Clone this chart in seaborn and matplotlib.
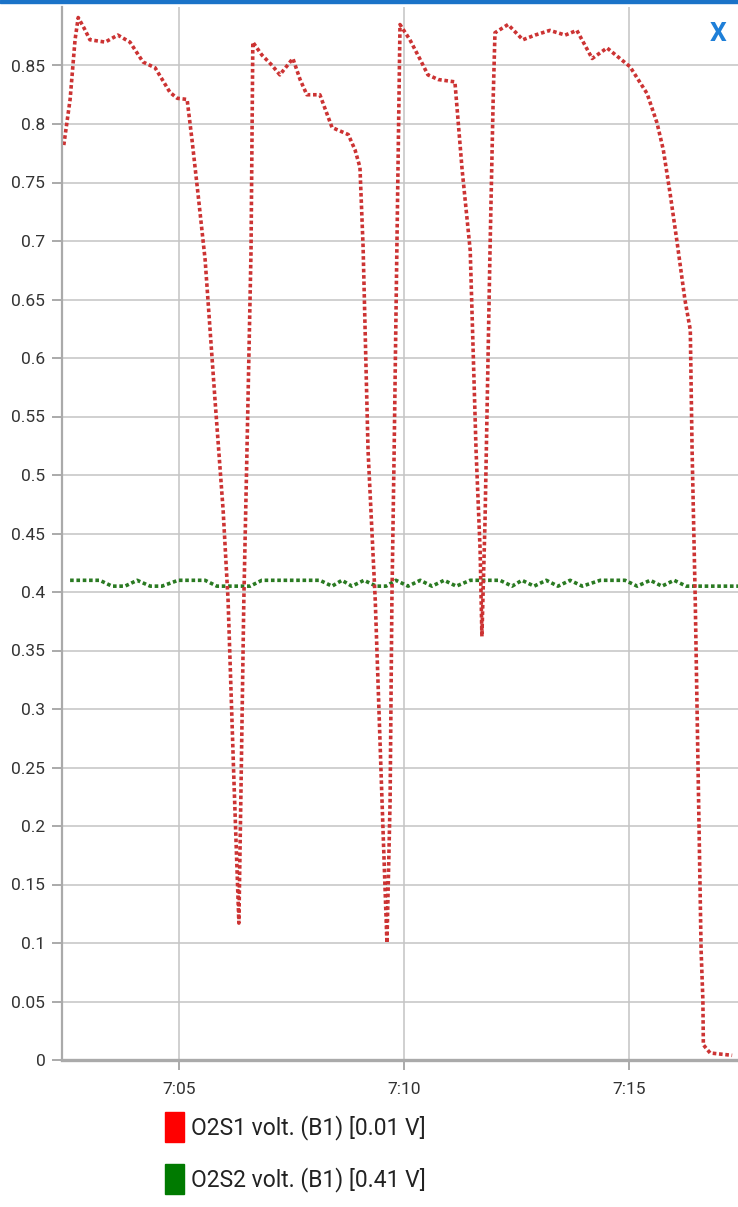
import numpy as np
import pandas as pd
import matplotlib
matplotlib.use("Agg")
import matplotlib.pyplot as plt
import matplotlib.dates as mdates
from matplotlib.patches import Patch, Rectangle
from matplotlib.ticker import FuncFormatter
import seaborn as sns

# --- data: minutes after 7:00 and sensor voltage (V) ---
o2s1_min = [2.44, 2.58, 2.69, 2.76, 2.89, 3.02, 3.36, 3.64, 3.91, 4.20, 4.47, 4.80,
            4.96, 5.18, 5.29, 5.42, 5.58, 5.80, 5.98, 6.09, 6.22, 6.33, 6.38, 6.44,
            6.51, 6.60, 6.64, 6.84, 7.07, 7.24, 7.53, 7.69, 7.84, 8.13, 8.40, 8.76,
            8.91, 9.02, 9.09, 9.20, 9.36, 9.51, 9.62, 9.69, 9.73, 9.78, 9.84, 9.91,
            10.13, 10.36, 10.53, 10.76, 11.13, 11.29, 11.47, 11.60, 11.69, 11.73,
            11.80, 11.91, 11.98, 12.02, 12.31, 12.64, 12.91, 13.24, 13.58, 13.84,
            14.18, 14.51, 15.02, 15.40, 15.62, 15.76, 15.91, 16.07, 16.24, 16.36,
            16.40, 16.47, 16.60, 16.64, 16.65, 16.80, 17.29]
o2s1_volt = [0.782, 0.821, 0.872, 0.891, 0.882, 0.872, 0.870, 0.876, 0.870, 0.853, 0.848, 0.827,
             0.822, 0.821, 0.786, 0.741, 0.684, 0.564, 0.470, 0.393, 0.239, 0.117, 0.239, 0.393,
             0.521, 0.692, 0.870, 0.859, 0.850, 0.842, 0.856, 0.838, 0.825, 0.825, 0.797, 0.791,
             0.778, 0.763, 0.695, 0.521, 0.393, 0.222, 0.100, 0.222, 0.393, 0.521, 0.692, 0.885,
             0.872, 0.855, 0.842, 0.838, 0.836, 0.761, 0.692, 0.521, 0.436, 0.362,
             0.462, 0.692, 0.821, 0.878, 0.885, 0.872, 0.876, 0.880, 0.876, 0.880,
             0.856, 0.865, 0.849, 0.826, 0.801, 0.778, 0.741, 0.698, 0.650, 0.624,
             0.521, 0.393, 0.094, 0.051, 0.013, 0.006, 0.004]

o2s2_min = [2.58, 3.24, 3.51, 3.80, 4.07, 4.36, 4.62, 4.98, 5.58, 5.84, 6.58, 6.84,
            8.13, 8.40, 8.62, 8.84, 9.11, 9.38, 9.60, 9.82, 10.09, 10.36, 10.62, 10.89,
            11.16, 11.47, 12.13, 12.40, 12.62, 12.89, 13.16, 13.42, 13.69, 13.96, 14.36,
            14.91, 15.18, 15.47, 15.73, 16.00, 16.27, 16.49, 17.42]
o2s2_volt = [0.410, 0.410, 0.405, 0.405, 0.410, 0.405, 0.405, 0.410, 0.410, 0.405, 0.405, 0.410,
             0.410, 0.405, 0.410, 0.405, 0.410, 0.405, 0.405, 0.410, 0.405, 0.410, 0.405, 0.410,
             0.405, 0.410, 0.410, 0.405, 0.410, 0.405, 0.410, 0.405, 0.410, 0.405, 0.410,
             0.410, 0.405, 0.410, 0.405, 0.410, 0.405, 0.405, 0.405]

legend_labels = ["O2S1 volt. (B1) [0.01 V]", "O2S2 volt. (B1) [0.41 V]"]

start = pd.Timestamp("2024-01-01 07:00")
df1 = pd.DataFrame({"time": start + pd.to_timedelta(o2s1_min, unit="min"), "volt": o2s1_volt})
df2 = pd.DataFrame({"time": start + pd.to_timedelta(o2s2_min, unit="min"), "volt": o2s2_volt})

sns.set_theme(style="whitegrid")
plt.rcParams["font.family"] = ["Roboto", "DejaVu Sans"]

fig = plt.figure(figsize=(7.38, 12.07), dpi=100)
ax = fig.add_axes([62 / 738, 147 / 1207, 676 / 738, 1053 / 1207])

sns.lineplot(data=df2, x="time", y="volt", ax=ax, color="#2a7a22", lw=2.6,
             linestyle=(0, (1, 0.75)), estimator=None, sort=False)
sns.lineplot(data=df1, x="time", y="volt", ax=ax, color="#cc3333", lw=2.6,
             linestyle=(0, (1, 0.75)), estimator=None, sort=False)

ax.set_xlim(start + pd.Timedelta(minutes=2.4), start + pd.Timedelta(minutes=17.42))
ax.set_ylim(0, 0.9)
ax.set_yticks(np.arange(0, 0.851, 0.05))
ax.yaxis.set_major_formatter(FuncFormatter(lambda v, p: "%g" % round(v, 2)))
ax.xaxis.set_major_locator(mdates.MinuteLocator(byminute=[5, 10, 15]))
ax.xaxis.set_major_formatter(mdates.DateFormatter("%-H:%M"))
ax.set_xlabel("")
ax.set_ylabel("")

ax.set_facecolor("white")
ax.grid(True, color="#c4c4c4", lw=1.1)
for s in ["top", "right"]:
    ax.spines[s].set_visible(False)
ax.spines["left"].set_color("#aaaaaa")
ax.spines["left"].set_linewidth(1.6)
ax.spines["bottom"].set_color("#aaaaaa")
ax.spines["bottom"].set_linewidth(2.4)
ax.tick_params(axis="both", colors="#aaaaaa", length=7, width=1.4, labelsize=12.5,
               labelcolor="#333333", direction="out")
ax.tick_params(axis="y", pad=5)
ax.tick_params(axis="x", pad=9)
ax.tick_params(left=True, bottom=True)

# top blue bar and close mark
fig.patches.append(Rectangle((0, 1 - 3 / 1207), 1, 3 / 1207, transform=fig.transFigure,
                             color="#1a73c8", zorder=5))
fig.text(718 / 738, 1 - 34 / 1207, "X", color="#1e7fd8", fontsize=19, fontweight="bold",
         ha="center", va="center")

handles = [Patch(facecolor="#ff0000", edgecolor="#ff0000"),
           Patch(facecolor="#007a00", edgecolor="#007a00")]
fig.legend(handles, legend_labels, loc="upper left", bbox_to_anchor=(165 / 738, 1 - 1112 / 1207),
           frameon=False, fontsize=16.5, handlelength=0.82, handleheight=1.65,
           handletextpad=0.33, labelspacing=0.95, borderpad=0, borderaxespad=0,
           labelcolor="#222222")

plt.savefig("out.png", dpi=100)
